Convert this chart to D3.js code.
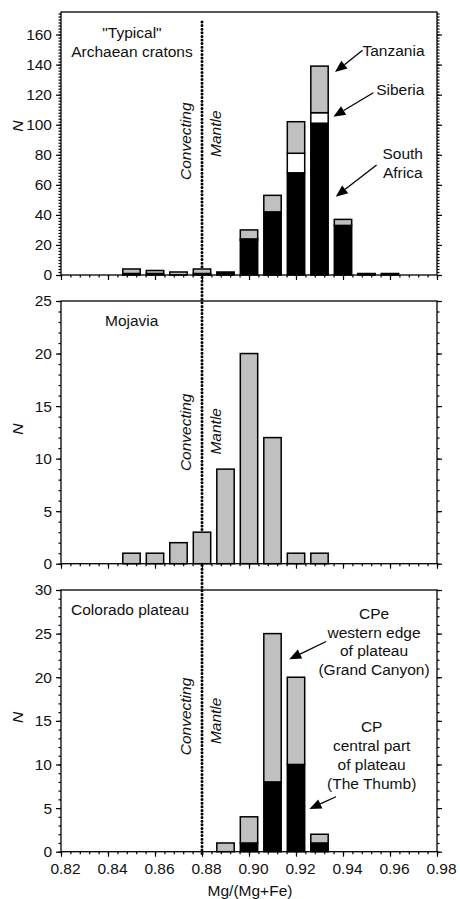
<!DOCTYPE html>
<html>
<head>
<meta charset="utf-8">
<script src="https://cdn.jsdelivr.net/npm/d3@7"></script>
<style>
  body { margin: 0; background: #fff; }
  svg { display: block; font-family: "Liberation Sans", Arial, Helvetica, sans-serif; }
  .tick text { font-size: 15.5px; fill: #111; }
  .tick line { stroke: #000; stroke-width: 1.2; }
  .lbl { font-size: 15.5px; fill: #111; }
</style>
</head>
<body>
<svg id="chart" width="460" height="899"></svg>
<script>
// Mg/(Mg+Fe) bin centres
var bins = [0.85, 0.86, 0.87, 0.88, 0.89, 0.90, 0.91, 0.92, 0.93, 0.94, 0.95, 0.96];
var xTicks = [0.82, 0.84, 0.86, 0.88, 0.90, 0.92, 0.94, 0.96, 0.98];

// panel 1 - "typical" Archaean cratons (stacked)
var southAfrica = [1, 1, 0, 1, 2, 23, 42, 68, 101, 33, 1, 1];
var siberia     = [0, 0, 0, 0, 0, 1, 0, 13, 7, 0, 0, 0];
var tanzania    = [3, 2, 2, 3, 0, 6, 11, 21, 31, 4, 0, 0];

// panel 2 - Mojavia
var mojavia = [1, 1, 2, 3, 9, 20, 12, 1, 1, 0, 0, 0];

// panel 3 - Colorado plateau (stacked)
var cpCentral = [0, 0, 0, 0, 0, 1, 8, 10, 1, 0, 0, 0];
var cpEdge    = [0, 0, 0, 0, 1, 3, 17, 10, 1, 0, 0, 0];

var mantleMgNo = 0.88;

var svg = d3.select("#chart");
var x = d3.scaleLinear().domain([0.82, 0.98]).range([61, 437]);
var barW = 0.0074;

var panels = [
    {top: 12, bottom: 275, max: 175, major: 20, labelMax: 160, minor: 2,
     keys: ["sa", "sib", "tan"], fills: ["#000", "#fff", "#c0c0c0"],
     cols: [southAfrica, siberia, tanzania], nAt: 99, convAt: 89, mantAt: 94,
     texts: [{t: "\"Typical\"", x: 0.8502, y: 158, a: "middle"},
             {t: "Archaean cratons", x: 0.8502, y: 145, a: "middle"},
             {t: "Tanzania", x: 0.9483, y: 146, a: "start"},
             {t: "Siberia", x: 0.9541, y: 120, a: "start"},
             {t: "South", x: 0.9654, y: 77, a: "middle"},
             {t: "Africa", x: 0.9654, y: 64.5, a: "middle"}],
     arrows: [[0.9483, 149.5, 0.9366, 135],
              [0.9529, 121.3, 0.9359, 105.3],
              [0.9543, 73.2, 0.9369, 52.1]]},
    {top: 301, bottom: 563.7, max: 25, major: 5, labelMax: 25, minor: 1,
     keys: ["moj"], fills: ["#c0c0c0"],
     cols: [mojavia], nAt: 12.8, convAt: 12.5, mantAt: 12.6,
     texts: [{t: "Mojavia", x: 0.8501, y: 22.6, a: "middle"}],
     arrows: []},
    {top: 590, bottom: 851.7, max: 30, major: 5, labelMax: 30, minor: 1,
     keys: ["cp", "cpe"], fills: ["#000", "#c0c0c0"],
     cols: [cpCentral, cpEdge], nAt: 15.4, convAt: 15.5, mantAt: 15.0, xLabels: true,
     texts: [{t: "Colorado plateau", x: 0.8494, y: 27.1, a: "middle"},
             {t: "CPe", x: 0.9532, y: 26.7, a: "middle"},
             {t: "western edge", x: 0.9532, y: 24.5, a: "middle"},
             {t: "of plateau", x: 0.9532, y: 22.4, a: "middle"},
             {t: "(Grand Canyon)", x: 0.9532, y: 20.2, a: "middle"},
             {t: "CP", x: 0.9522, y: 13.7, a: "middle"},
             {t: "central part", x: 0.9522, y: 11.5, a: "middle"},
             {t: "of plateau", x: 0.9522, y: 9.4, a: "middle"},
             {t: "(The Thumb)", x: 0.9522, y: 7.2, a: "middle"}],
     arrows: [[0.9328, 24.1, 0.9171, 22.06],
              [0.937, 6.3, 0.9257, 4.9]]}
];

// convecting mantle dotted line, behind the bars
svg.append("line")
    .attr("x1", x(mantleMgNo)).attr("x2", x(mantleMgNo))
    .attr("y1", 22).attr("y2", 856)
    .attr("stroke", "#000").attr("stroke-width", 3)
    .attr("stroke-linecap", "round").attr("stroke-dasharray", "0,3.6");

panels.forEach(function(p) {
    var y = d3.scaleLinear().domain([0, p.max]).range([p.bottom, p.top]);
    var g = svg.append("g");

    var rows = bins.map(function(b, i) {
        var r = {bin: b};
        p.keys.forEach(function(k, j) { r[k] = p.cols[j][i]; });
        return r;
    });
    var stacked = d3.stack().keys(p.keys)(rows);

    stacked.forEach(function(layer, j) {
        g.selectAll(null)
            .data(layer.filter(function(d) { return d[1] > d[0]; }))
            .enter().append("rect")
            .attr("x", function(d) { return x(d.data.bin - barW / 2); })
            .attr("width", x(0.82 + barW) - x(0.82))
            .attr("y", function(d) { return y(d[1]); })
            .attr("height", function(d) { return y(d[0]) - y(d[1]); })
            .attr("fill", p.fills[j])
            .attr("stroke", "#000").attr("stroke-width", 1.5);
    });

    // frame
    g.append("rect")
        .attr("x", x(0.82)).attr("y", p.top)
        .attr("width", x(0.98) - x(0.82)).attr("height", p.bottom - p.top)
        .attr("fill", "none").attr("stroke", "#000").attr("stroke-width", 1.3);

    // y axes
    var majors = d3.range(0, p.labelMax + 0.1, p.major);
    var minors = d3.range(0, p.max + 0.01, p.minor);
    g.append("g").attr("transform", "translate(" + x(0.82) + ",0)")
        .call(d3.axisLeft(y).tickValues(minors).tickSize(2.5).tickFormat(""))
        .call(function(s) { s.select(".domain").remove(); });
    g.append("g").attr("transform", "translate(" + x(0.82) + ",0)")
        .call(d3.axisLeft(y).tickValues(majors).tickSize(5).tickPadding(4).tickFormat(d3.format("d")))
        .call(function(s) { s.select(".domain").remove(); });
    g.append("g").attr("transform", "translate(" + x(0.98) + ",0)")
        .call(d3.axisRight(y).tickValues(minors).tickSize(2.5).tickFormat(""))
        .call(function(s) { s.select(".domain").remove(); });
    g.append("g").attr("transform", "translate(" + x(0.98) + ",0)")
        .call(d3.axisRight(y).tickValues(majors).tickSize(5).tickFormat(""))
        .call(function(s) { s.select(".domain").remove(); });

    // x axis
    g.append("g").attr("transform", "translate(0," + p.bottom + ")")
        .call(d3.axisBottom(x).tickValues(d3.range(0.82, 0.9801, 0.004)).tickSize(2.5).tickFormat(""))
        .call(function(s) { s.select(".domain").remove(); });
    var xa = g.append("g").attr("transform", "translate(0," + p.bottom + ")")
        .call(d3.axisBottom(x).tickValues(xTicks).tickSize(5).tickPadding(6)
            .tickFormat(p.xLabels ? d3.format(".2f") : ""))
        .call(function(s) { s.select(".domain").remove(); });
    xa.selectAll(".tick text").attr("dx", 4);

    // N label
    g.append("text").attr("class", "lbl")
        .attr("transform", "translate(23," + y(p.nAt) + ") rotate(-90)")
        .attr("text-anchor", "middle").style("font-style", "italic")
        .text("N");

    // convecting mantle labels
    g.append("text").attr("class", "lbl")
        .attr("transform", "translate(" + (x(mantleMgNo) - 11) + "," + y(p.convAt) + ") rotate(-90)")
        .attr("text-anchor", "middle").style("font-style", "italic")
        .text("Convecting");
    g.append("text").attr("class", "lbl")
        .attr("transform", "translate(" + (x(mantleMgNo) + 19) + "," + y(p.mantAt) + ") rotate(-90)")
        .attr("text-anchor", "middle").style("font-style", "italic")
        .text("Mantle");

    p.texts.forEach(function(t) {
        g.append("text").attr("class", "lbl")
            .attr("x", x(t.x)).attr("y", y(t.y))
            .attr("text-anchor", t.a).text(t.t);
    });

    p.arrows.forEach(function(a) {
        var x1 = x(a[0]), y1 = y(a[1]), x2 = x(a[2]), y2 = y(a[3]);
        var ang = Math.atan2(y2 - y1, x2 - x1);
        var len = 12, hw = 5;
        var bx = x2 - len * Math.cos(ang), by = y2 - len * Math.sin(ang);
        g.append("line")
            .attr("x1", x1).attr("y1", y1).attr("x2", bx).attr("y2", by)
            .attr("stroke", "#000").attr("stroke-width", 1.3);
        g.append("polygon")
            .attr("points", [
                [x2, y2],
                [bx + hw * Math.sin(ang), by - hw * Math.cos(ang)],
                [bx - hw * Math.sin(ang), by + hw * Math.cos(ang)]
            ].map(function(pt) { return pt.join(","); }).join(" "))
            .attr("fill", "#000");
    });
});

svg.append("text").attr("class", "lbl")
    .attr("x", 250).attr("y", 896)
    .attr("text-anchor", "middle")
    .text("Mg/(Mg+Fe)");
</script>
</body>
</html>
